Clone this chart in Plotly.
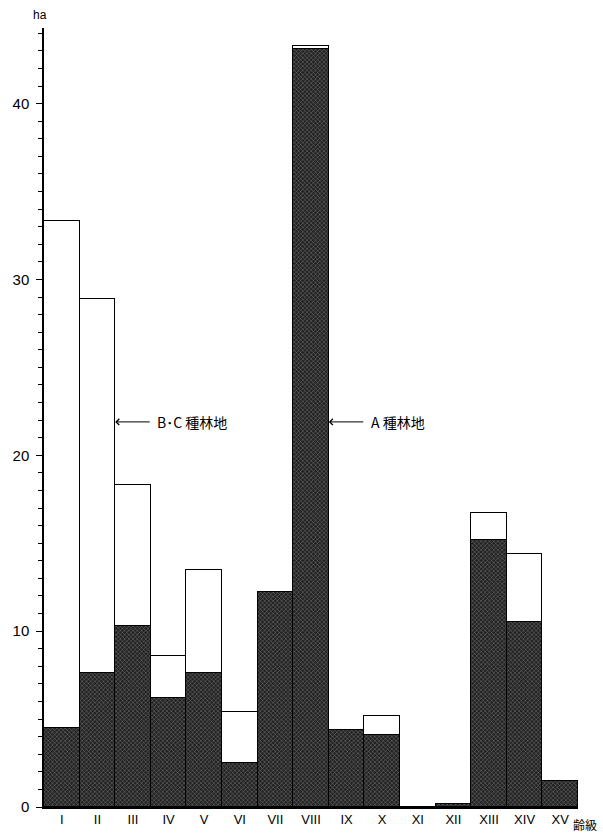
import plotly.graph_objects as go

categories = ["I", "II", "III", "IV", "V", "VI", "VII", "VIII", "IX", "X",
              "XI", "XII", "XIII", "XIV", "XV"]
a_area = [4.5, 7.6, 10.3, 6.2, 7.6, 2.5, 12.2, 43.1, 4.4, 4.1, 0, 0.15, 15.2, 10.5, 1.5]
bc_area = [28.8, 21.3, 8.0, 2.4, 5.9, 2.9, 0, 0.2, 0, 1.1, 0, 0, 1.5, 3.9, 0]
y_ticks = [0, 10, 20, 30, 40]

FONT = "Liberation Sans, Arial, sans-serif"
JFONT = "Noto Sans CJK JP, sans-serif"

xs = list(range(len(categories)))

fig = go.Figure()
fig.add_trace(go.Bar(
    x=xs, y=a_area, name="A種林地",
    marker=dict(
        color="#2b2b2b",
        line=dict(color="black", width=1.5),
        pattern=dict(shape="x", bgcolor="#222222", fgcolor="#8a8a8a",
                     size=3, solidity=0.25, fillmode="replace"),
    ),
    width=1.0,
))
fig.add_trace(go.Bar(
    x=xs, y=bc_area, name="B・C種林地",
    marker=dict(color="white", line=dict(color="black", width=1.5)),
    width=1.0,
))

fig.update_layout(
    width=603, height=835,
    barmode="stack", bargap=0,
    showlegend=False,
    plot_bgcolor="white", paper_bgcolor="white",
    margin=dict(l=44, r=25, t=28, b=28, autoexpand=False),
    font=dict(family=FONT, size=14, color="black"),
)
fig.update_xaxes(
    range=[-0.5, 14.5],
    tickmode="array", tickvals=xs, ticktext=categories,
    showline=True, linecolor="black", linewidth=1.5,
    ticks="", showgrid=False, zeroline=False, automargin=False,
    tickfont=dict(family=FONT, size=13),
)
fig.update_yaxes(
    range=[0, 44.3],
    tickmode="array", tickvals=y_ticks,
    showline=True, linecolor="black", linewidth=1.5,
    ticks="outside", ticklen=6, tickwidth=1.2, tickcolor="black",
    minor=dict(dtick=1, ticks="outside", ticklen=4, tickwidth=1, tickcolor="black", showgrid=False),
    showgrid=False, zeroline=False, automargin=False,
    ticklabelstandoff=4,
    tickfont=dict(family=FONT, size=15),
)

# unit labels
fig.add_annotation(xref="paper", yref="paper", x=0, y=1.0, xshift=-4, yshift=4,
                   text="ha", showarrow=False, font=dict(family=FONT, size=12),
                   xanchor="center", yanchor="bottom")
fig.add_annotation(xref="paper", yref="paper", x=1.0, y=0, xshift=20, yshift=-17,
                   text="齢級", showarrow=False, font=dict(family=JFONT, size=12),
                   xanchor="right", yanchor="middle", borderpad=0)

# arrows
for xb, yv, label in [(1.5, 21.9, "B･C 種林地"), (7.5, 21.9, "A 種林地")]:
    fig.add_annotation(x=xb, y=yv, xref="x", yref="y", ax=36, ay=0,
                       text="", showarrow=True, arrowhead=4, arrowside="end",
                       arrowsize=1.2, arrowwidth=1,
                       arrowcolor="black")
    fig.add_annotation(x=xb, y=yv, xref="x", yref="y", xshift=40,
                       text=label, showarrow=False, xanchor="left", yanchor="middle",
                       font=dict(family=JFONT, size=14))

fig.write_html("out.html", config={"displayModeBar": False},
               post_script="document.body.style.margin='0';document.body.style.overflow='hidden';")
